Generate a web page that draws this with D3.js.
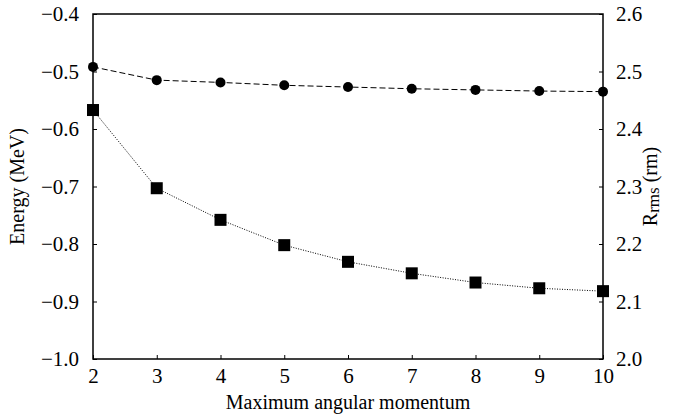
<!DOCTYPE html>
<html><head><meta charset="utf-8">
<script src="https://cdn.jsdelivr.net/npm/d3@7"></script>
<style>body{margin:0;background:#fff}</style>
</head><body>
<svg id="c" width="675" height="420"></svg>
<script>
const lmax = [2,3,4,5,6,7,8,9,10];
const energy = [-0.567,-0.703,-0.758,-0.802,-0.831,-0.851,-0.867,-0.877,-0.882];
const rrms = [2.508,2.485,2.481,2.476,2.473,2.470,2.468,2.466,2.465];
const xTicks = [2,3,4,5,6,7,8,9,10];
const eTicks = [-1.0,-0.9,-0.8,-0.7,-0.6,-0.5,-0.4];
const rTicks = [2.0,2.1,2.2,2.3,2.4,2.5,2.6];

const svg = d3.select("#c");
const L=93,R=603,T=14,B=359;
const font="Liberation Serif, Times New Roman, serif";
const x = d3.scaleLinear().domain([2,10]).range([L,R]);
const yE = d3.scaleLinear().domain([-1.0,-0.4]).range([B,T]);
const yR = d3.scaleLinear().domain([2.0,2.6]).range([B,T]);
const fmt = d3.format(".1f");

const gx = svg.append("g").attr("transform",`translate(0,${B})`)
  .call(d3.axisBottom(x).tickValues(xTicks).tickSize(-4).tickPadding(6).tickFormat(d3.format("d")));
const gl = svg.append("g").attr("transform",`translate(${L},0)`)
  .call(d3.axisLeft(yE).tickValues(eTicks).tickSize(-4).tickPadding(14).tickFormat(fmt));
const gr = svg.append("g").attr("transform",`translate(${R},0)`)
  .call(d3.axisRight(yR).tickValues(rTicks).tickSize(-4).tickPadding(13).tickFormat(fmt));
[gx,gl,gr].forEach(g=>{
  g.select(".domain").remove();
  g.selectAll("line").attr("stroke","#000").attr("stroke-width",1);
  g.selectAll("text").attr("font-family",font).attr("font-size",21).attr("fill","#000");
});
gx.selectAll("text").attr("dy","0.85em");
svg.append("rect").attr("x",L).attr("y",T).attr("width",R-L).attr("height",B-T)
  .attr("fill","none").attr("stroke","#000").attr("stroke-width",1.5);

// lines
svg.append("path").datum(lmax.map((d,i)=>[d,rrms[i]]))
  .attr("d",d3.line().x(d=>x(d[0])).y(d=>yR(d[1])))
  .attr("fill","none").attr("stroke","#000").attr("stroke-width",1).attr("stroke-dasharray","6,3");
svg.append("path").datum(lmax.map((d,i)=>[d,energy[i]]))
  .attr("d",d3.line().x(d=>x(d[0])).y(d=>yE(d[1])))
  .attr("fill","none").attr("stroke","#000").attr("stroke-width",1).attr("stroke-dasharray","1,1.5");

svg.selectAll("circle.r").data(lmax).enter().append("circle")
  .attr("cx",d=>x(d)).attr("cy",(d,i)=>yR(rrms[i])).attr("r",5).attr("fill","#000");
const s=12;
svg.selectAll("rect.e").data(lmax).enter().append("rect")
  .attr("x",d=>x(d)-s/2).attr("y",(d,i)=>yE(energy[i])-s/2).attr("width",s).attr("height",s).attr("fill","#000");

svg.append("text").attr("x",(L+R)/2).attr("y",409).attr("text-anchor","middle")
  .attr("font-family",font).attr("font-size",20).text("Maximum angular momentum");
svg.append("text").attr("transform",`translate(24,${(T+B)/2}) rotate(-90)`).attr("text-anchor","middle")
  .attr("font-family",font).attr("font-size",20).text("Energy (MeV)");
const rl = svg.append("text").attr("transform",`translate(657,${(T+B)/2}) rotate(-90)`).attr("text-anchor","middle")
  .attr("font-family",font).attr("font-size",20);
rl.append("tspan").text("R");
rl.append("tspan").attr("font-size",17).attr("dy",2).text("rms");
rl.append("tspan").attr("dy",-2).text(" (rm)");
</script>
</body></html>
